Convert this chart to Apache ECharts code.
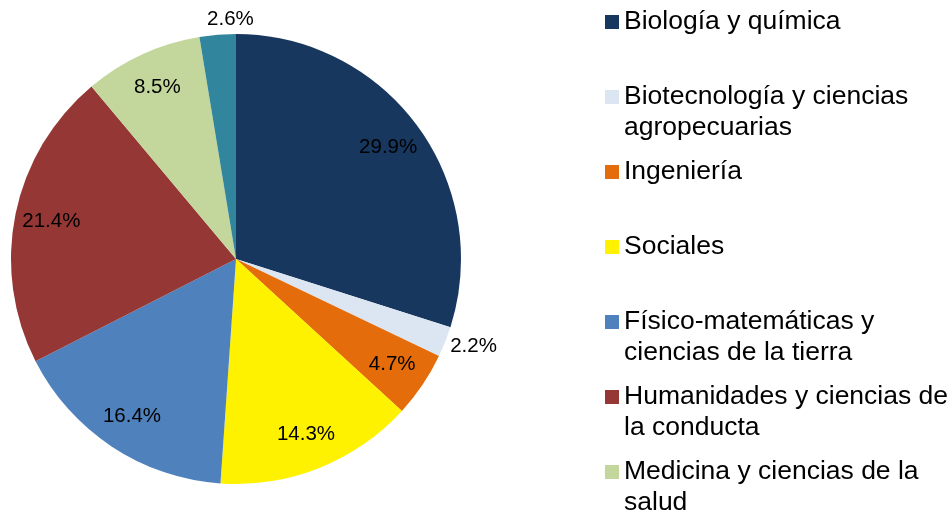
<!DOCTYPE html>
<html>
<head>
<meta charset="utf-8">
<script src="https://cdn.jsdelivr.net/npm/echarts@6/dist/echarts.min.js"></script>
<style>
  html, body { margin: 0; padding: 0; background: #fff; }
  #chart { width: 951px; height: 518px; }
</style>
</head>
<body>
<div id="chart"></div>
<script>
// Areas of knowledge and their share (%)
const categories = [
  'Biología y química',
  'Biotecnología y ciencias agropecuarias',
  'Ingeniería',
  'Sociales',
  'Físico-matemáticas y ciencias de la tierra',
  'Humanidades y ciencias de la conducta',
  'Medicina y ciencias de la salud',
  'Multidisciplinaria'
];
const legendText = [
  'Biología y química',
  'Biotecnología y ciencias\nagropecuarias',
  'Ingeniería',
  'Sociales',
  'Físico-matemáticas y\nciencias de la tierra',
  'Humanidades y ciencias de\nla conducta',
  'Medicina y ciencias de la\nsalud',
  'Multidisciplinaria'
];
const shares = [29.9, 2.2, 4.7, 14.3, 16.4, 21.4, 8.5, 2.6];

const colors = ['#17375E', '#DCE6F2', '#E46C0A', '#FFF200', '#4F81BD', '#953735', '#C3D69B', '#31859C'];
const FONT = "'Liberation Sans', Arial, sans-serif";
const CENTER = [236, 259];
const R = 225;
const LINE_H = 31;

const chart = echarts.init(document.getElementById('chart'), null, { renderer: 'canvas' });

// small slices get their label outside the pie
const isSmall = v => v < 3;
const last = categories.length - 1;

// one legend per item so each entry sits at a fixed row (75px apart)
const legends = categories.map((name, i) => {
  const multi = legendText[i].indexOf('\n') >= 0;
  // leading blank line keeps the first text line level with the icon
  const text = multi ? '\n' + legendText[i] : legendText[i];
  const rowY = 22 + i * 75;
  return {
    data: [name],
    orient: 'vertical',
    left: 605,
    top: rowY - (multi ? LINE_H * 1.5 : LINE_H / 2),
    padding: 0,
    itemWidth: 14,
    itemHeight: 14,
    icon: 'rect',
    selectedMode: false,
    formatter: () => text,
    textStyle: { fontFamily: FONT, fontSize: 26.5, color: '#000', lineHeight: LINE_H }
  };
});

const option = {
  animation: false,
  color: colors,
  legend: legends,
  series: [
    {
      // the slices, with outside labels for the thin ones
      type: 'pie',
      center: CENTER,
      radius: R,
      startAngle: 90,
      clockwise: true,
      avoidLabelOverlap: false,
      itemStyle: { borderWidth: 0 },
      label: { show: false },
      labelLine: { show: false },
      emphasis: { disabled: true },
      data: categories.map((name, i) => ({
        name: name,
        value: shares[i],
        label: {
          show: isSmall(shares[i]),
          position: 'outside',
          formatter: p => p.value.toFixed(1) + '%',
          fontFamily: FONT,
          fontSize: 20.5,
          color: '#000'
        },
        labelLine: { show: false, length: i === last ? 15 : 0, length2: 0 }
      })),
      labelLayout: p => (p.dataIndex === last ? { align: 'center', dx: 19 } : { dy: 5 })
    },
    {
      // transparent ring used only to place the inside labels near the rim
      type: 'pie',
      center: CENTER,
      radius: [146, R],
      startAngle: 90,
      clockwise: true,
      silent: true,
      avoidLabelOverlap: false,
      itemStyle: { color: 'rgba(0,0,0,0)', borderWidth: 0 },
      labelLine: { show: false },
      data: categories.map((name, i) => ({
        name: name,
        value: shares[i],
        label: {
          show: !isSmall(shares[i]),
          position: 'inside',
          formatter: p => p.value.toFixed(1) + '%',
          fontFamily: FONT,
          fontSize: 20.5,
          color: '#000'
        }
      }))
    }
  ]
};

chart.setOption(option);
</script>
</body>
</html>
